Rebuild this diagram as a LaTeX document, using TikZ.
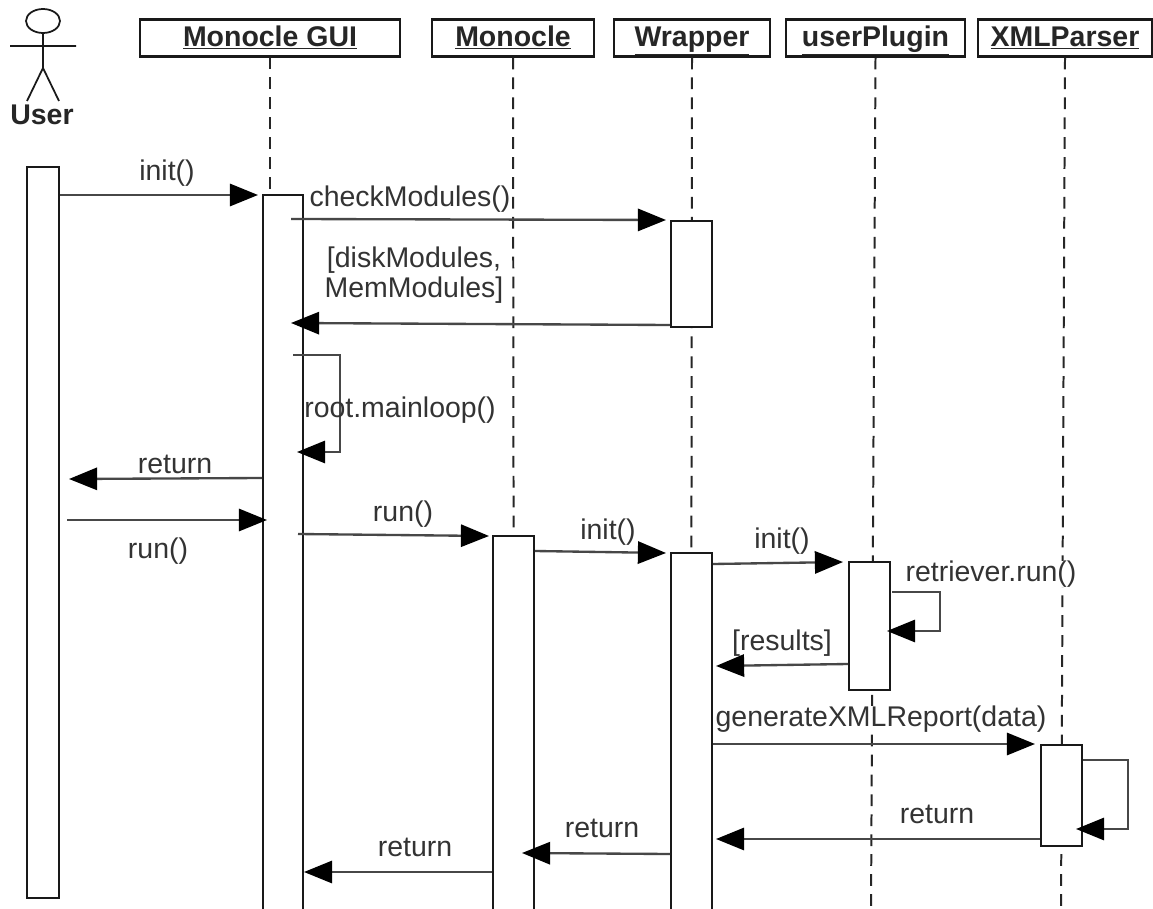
\documentclass[tikz,border=0pt]{standalone}
\usepackage{fontspec}
\setmainfont{Liberation Sans}
\usetikzlibrary{arrows.meta,shapes.geometric}
\newcommand{\pxw}{0.03cm}
\tikzset{
 head/.style={draw=black!90,line width=1.8pt,fill=white,inner sep=0pt,minimum height=37*\pxw,font=\bfseries\fontsize{24.3}{24.3}\selectfont,text=black!85,text height=20pt,text depth=5.2pt},
 bar/.style={draw=black!90,line width=1.7pt,fill=white,inner sep=0pt},
 life/.style={draw=black!85,line width=1.7pt,dash pattern=on 10pt off 7pt},
 msg/.style={draw=black!72,line width=2pt,-{Triangle[length=24pt,width=19pt,fill=black,color=black]}},
 lbl/.style={font=\fontsize{24.3}{25.6}\selectfont,text=black!80,inner sep=0pt},
 stick/.style={draw=black!90,line width=1.5pt}
}
\begin{document}
\begin{tikzpicture}[x=0.03cm,y=-0.03cm]
\useasboundingbox (0,0) rectangle (1153,909);
\fill[white] (0,0) rectangle (1153,909);
% headers
\node[head,minimum width=260*\pxw] (hg) at (270,38) {\underline{Monocle GUI}};
\node[head,minimum width=162*\pxw] (hm) at (513,38) {\underline{Monocle}};
\node[head,minimum width=156*\pxw] (hw) at (692,38) {\underline{Wrapper}};
\node[head,minimum width=179*\pxw] (hu) at (875.5,38) {\underline{userPlugin}};
\node[head,minimum width=174*\pxw] (hx) at (1065,38) {\underline{XMLParser}};
% lifeline ends
\coordinate (eg) at (270,909);
\coordinate (em) at (514,909);
\coordinate (ew) at (691,909);
\coordinate (eu) at (871,909);
\coordinate (ex) at (1061,909);
\draw[life] (hg.south)--(eg);
\draw[life] (hm.south)--(em);
\draw[life] (hw.south)--(ew);
\draw[life] (hu.south)--(eu);
\draw[life] (hx.south)--(ex);
% actor
\node[draw=black!90,line width=1.5pt,ellipse,inner sep=0pt,minimum width=34*\pxw,minimum height=24*\pxw] (ah) at (43,21) {};
\coordinate (ahip) at (43,68);
\coordinate (al) at (10,46);
\coordinate (ar) at (76,46);
\coordinate (fl) at (27,101);
\coordinate (fr) at (59,101);
\draw[stick] (ah.south)--(ahip) (al)--(ar) (fl)--(ahip)--(fr);
\node[font=\bfseries\fontsize{24.3}{24.3}\selectfont,text=black!85,inner sep=0pt] (user) at (42,115) {User};
% activation bars
\node[bar,minimum width=32*\pxw,minimum height=731*\pxw] (bu) at (43,532.5) {};
\path[clip] (0,0) rectangle (1153,909);
\node[bar,minimum width=40*\pxw,minimum height=730*\pxw] (bg) at (283,560) {};
\node[bar,minimum width=41*\pxw,minimum height=106*\pxw] (bw1) at (691.5,274) {};
\node[bar,minimum width=41*\pxw,minimum height=400*\pxw] (bm) at (513.5,736) {};
\node[bar,minimum width=41*\pxw,minimum height=400*\pxw] (bw2) at (691.5,753) {};
\node[bar,minimum width=41*\pxw,minimum height=128*\pxw] (bp) at (869.5,626) {};
\node[bar,minimum width=41*\pxw,minimum height=101*\pxw] (bx) at (1061.5,795.5) {};
% message ends
\coordinate (a1) at (258,195);
\coordinate (a2s) at (291,219); \coordinate (a2e) at (666,220);
\coordinate (a3e) at (291,323);
\coordinate (s1a) at (293,355); \coordinate (s1b) at (340,355); \coordinate (s1c) at (340,452); \coordinate (s1d) at (297,452);
\coordinate (a4e) at (69,479);
\coordinate (a5s) at (67,520); \coordinate (a5e) at (267,520);
\coordinate (a6s) at (298,534); \coordinate (a6e) at (489,536);
\coordinate (a7e) at (666,553);
\coordinate (a8e) at (843,562);
\coordinate (s2a) at (892,592); \coordinate (s2b) at (940,592); \coordinate (s2c) at (940,631); \coordinate (s2d) at (887,631);
\coordinate (a9e) at (716,666);
\coordinate (a10e) at (1035,744);
\coordinate (s3a) at (1083,760); \coordinate (s3b) at (1128,760); \coordinate (s3c) at (1128,829); \coordinate (s3d) at (1076,829);
\coordinate (a11e) at (716,839);
\coordinate (a12e) at (522,853);
\coordinate (a13e) at (304,872);
% messages
\draw[msg] (bu.east |- a1)--(a1);
\draw[msg] (a2s)--(a2e);
\draw[msg] (bw1.west |- 0,325)--(a3e);
\draw[msg] (s1a)--(s1b)--(s1c)--(s1d);
\draw[msg] (bg.west |- 0,478)--(a4e);
\draw[msg] (a5s)--(a5e);
\draw[msg] (a6s)--(a6e);
\draw[msg] (bm.east |- 0,551)--(a7e);
\draw[msg] (bw2.east |- 0,564)--(a8e);
\draw[msg] (s2a)--(s2b)--(s2c)--(s2d);
\draw[msg] (bp.west |- 0,664)--(a9e);
\draw[msg] (bw2.east |- a10e)--(a10e);
\draw[msg] (s3a)--(s3b)--(s3c)--(s3d);
\draw[msg] (bx.west |- a11e)--(a11e);
\draw[msg] (bw2.west |- 0,854)--(a12e);
\draw[msg] (bm.west |- a13e)--(a13e);
% labels
\node[lbl] (l1) at (167,173) {init()};
\node[lbl] (l2) at (410,199) {checkModules()};
\node[lbl,align=center] (l3) at (414,275) {[diskModules,\\MemModules]};
\node[lbl] (l4) at (400,410) {root.mainloop()};
\node[lbl] (l5) at (175,464) {return};
\node[lbl] (l6) at (158,551) {run()};
\node[lbl] (l7) at (403,514) {run()};
\node[lbl] (l8) at (608,532) {init()};
\node[lbl] (l9) at (782,541) {init()};
\node[lbl,fill=white] (l10) at (991,574) {retriever.run()};
\node[lbl] (l11) at (782,643) {[results]};
\node[lbl,fill=white] (l12) at (881,719) {generateXMLReport(data)};
\node[lbl] (l13) at (937,814) {return};
\node[lbl] (l14) at (602,828) {return};
\node[lbl] (l15) at (415,847) {return};
\end{tikzpicture}
\end{document}
